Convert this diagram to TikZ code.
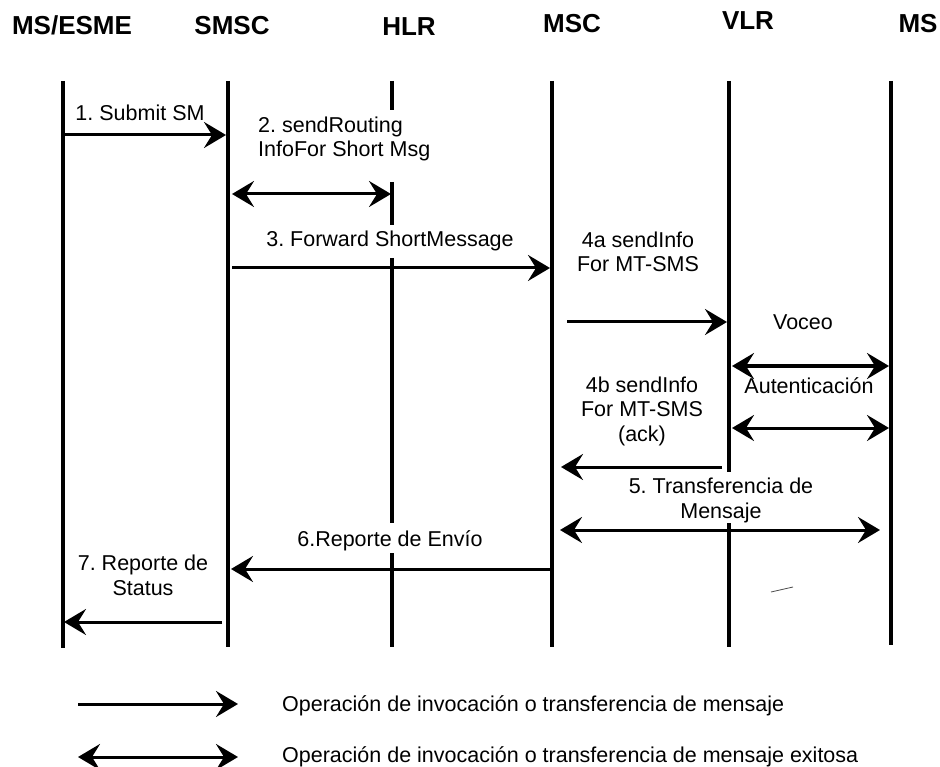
\documentclass[tikz,border=0pt]{standalone}
\usepackage{fontspec}
\setmainfont{Liberation Sans}
\usetikzlibrary{arrows.meta}
\begin{document}
\frenchspacing
\begin{tikzpicture}[x=1pt,y=-1pt,
  lifeline/.style={line width=4pt},
  msg/.style={line width=3pt,-{Stealth[length=22pt,width=26pt,inset=8pt]}},
  bimsg/.style={line width=3pt,{Stealth[length=22pt,width=26pt,inset=8pt]}-{Stealth[length=22pt,width=26pt,inset=8pt]}},
  head/.style={font=\fontsize{26}{30}\selectfont\bfseries,inner sep=0pt,anchor=base},
  lbl/.style={font=\fontsize{21.5}{24.5}\selectfont,inner sep=0pt,anchor=base,align=center},
  legendtxt/.style={font=\fontsize{21.5}{24.5}\selectfont,inner sep=0pt,anchor=base west},
]
\fill[white] (0,0) rectangle (940,767);
\useasboundingbox (0,0) rectangle (940,767);

% participant headers
\node[head] (hEsme) at (72,35)  {MS/ESME};
\node[head] (hSmsc) at (232,35) {SMSC};
\node[head] (hHlr)  at (409,36) {HLR};
\node[head] (hMsc)  at (572,33) {MSC};
\node[head] (hVlr)  at (748,30) {VLR};
\node[head] (hMs)   at (918,33) {MS};

% lifeline end points
\coordinate (esmeT) at (63,81);  \coordinate (esmeB) at (63,648);
\coordinate (smscT) at (228,81); \coordinate (smscB) at (228,647);
\coordinate (hlrT)  at (392,81); \coordinate (hlrB)  at (392,647);
\coordinate (mscT)  at (552,81); \coordinate (mscB)  at (552,647);
\coordinate (vlrT)  at (729,81); \coordinate (vlrB)  at (729,647);
\coordinate (msT)   at (891,81); \coordinate (msB)   at (891,645);

% lifelines (HLR and VLR are broken around the labels that cross them)
\draw[lifeline] (esmeT) -- (esmeB);
\draw[lifeline] (smscT) -- (smscB);
\draw[lifeline] (hlrT) -- (392,110) (392,182) -- (392,225) (392,258) -- (392,523) (392,553) -- (hlrB);
\draw[lifeline] (mscT) -- (mscB);
\draw[lifeline] (vlrT) -- (729,472) (729,523) -- (vlrB);
\draw[lifeline] (msT) -- (msB);

% message end points
\coordinate (m1a) at (63,135);  \coordinate (m1b) at (226,135);
\coordinate (m2a) at (232,194); \coordinate (m2b) at (391,194);
\coordinate (m3a) at (232,268); \coordinate (m3b) at (550,268);
\coordinate (m4a) at (567,322); \coordinate (m4b) at (727,322);
\coordinate (vca) at (732,366); \coordinate (vcb) at (889,366);
\coordinate (aua) at (732,428); \coordinate (aub) at (889,428);
\coordinate (m4c) at (722,467); \coordinate (m4d) at (561,467);
\coordinate (m5a) at (560,530); \coordinate (m5b) at (880,530);
\coordinate (m6a) at (552,569); \coordinate (m6b) at (231,569);
\coordinate (m7a) at (222,622); \coordinate (m7b) at (64,622);

% messages
\draw[msg]   (m1a) -- (m1b);
\draw[bimsg] (m2a) -- (m2b);
\draw[msg]   (m3a) -- (m3b);
\draw[msg]   (m4a) -- (m4b);
\draw[bimsg] (vca) -- (vcb);
\draw[bimsg] (aua) -- (aub);
\draw[msg]   (m4c) -- (m4d);
\draw[bimsg] (m5a) -- (m5b);
\draw[msg]   (m6a) -- (m6b);
\draw[msg]   (m7a) -- (m7b);

% message labels (base anchor of a multi-line label is its last line)
\node[lbl] (l1) at (140,121) {1. Submit SM};
\node[lbl,anchor=base west,align=left] (l2) at (258,157) {2. sendRouting\\InfoFor Short Msg};
\node[lbl] (l3) at (390,247) {3. Forward ShortMessage};
\node[lbl] (l4a) at (638,272) {4a sendInfo\\For MT-SMS};
\node[lbl] (lvc) at (803,330) {Voceo};
\node[lbl] (lau) at (809,393) {Autenticación};
\node[lbl] (l4b) at (642,441) {4b sendInfo\\For MT-SMS\\(ack)};
\node[lbl] (l5) at (721,518) {5. Transferencia de\\Mensaje};
\node[lbl] (l6) at (390,546) {6.Reporte de Envío};
\node[lbl] (l7) at (143,595) {7. Reporte de\\Status};

% small stray stroke
\draw[line width=0.8pt,black!70] (771,592) -- (793,587);

% legend
\coordinate (g1a) at (78,704);  \coordinate (g1b) at (238,704);
\coordinate (g2a) at (78,757);  \coordinate (g2b) at (238,757);
\draw[msg]   (g1a) -- (g1b);
\draw[bimsg] (g2a) -- (g2b);
\node[legendtxt] (t1) at (282,711) {Operación de invocación o transferencia de mensaje};
\node[legendtxt] (t2) at (282,762) {Operación de invocación o transferencia de mensaje exitosa};
\end{tikzpicture}
\end{document}
